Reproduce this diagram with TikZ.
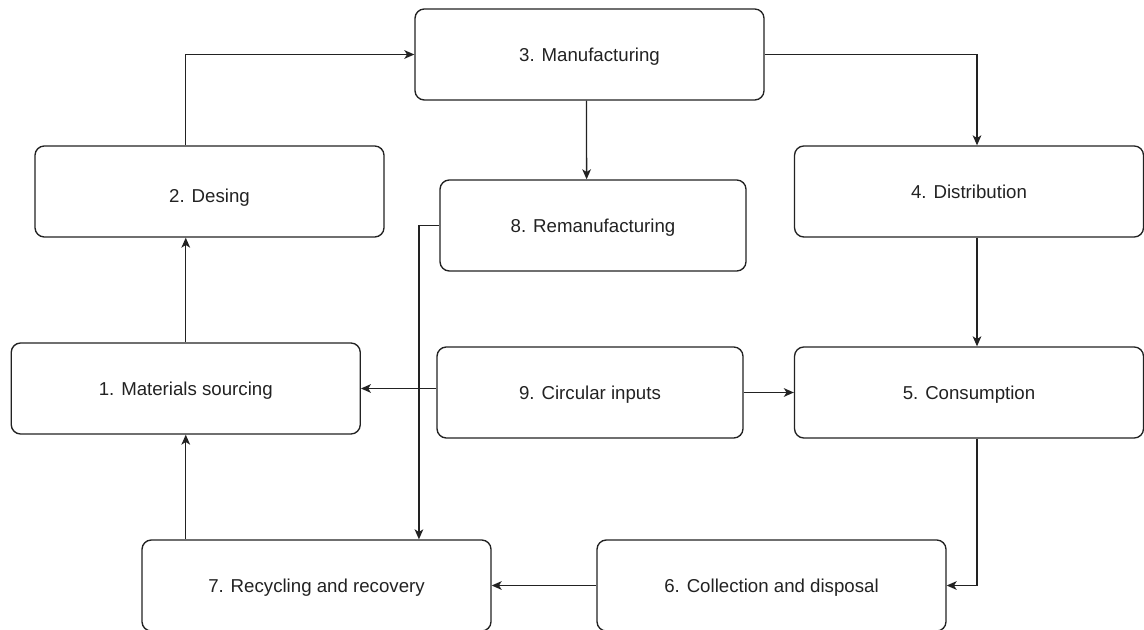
\documentclass[tikz,border=0pt]{standalone}
\usepackage{fontspec}
\setmainfont{Liberation Sans}
\usetikzlibrary{arrows.meta,calc}
\definecolor{ln}{HTML}{222222}
\begin{document}
\begin{tikzpicture}[x=0.75pt,y=-0.75pt,
  box/.style={draw=ln,line width=1pt,rounded corners=7pt,minimum height=68.25pt,
    text=ln,font=\fontsize{14}{16}\selectfont,inner sep=0pt,text height=10pt,text depth=0pt},
  wide/.style={box,minimum width=261.75pt},
  narrow/.style={box,minimum width=229.5pt},
  arr/.style={draw=ln,line width=1pt,-{Stealth[length=7.5pt,width=6.5pt,inset=2pt]}}]
\useasboundingbox (0,0) rectangle (1144,630);
\node[wide] (n3) at (589.5,54.5) {3. Manufacturing};
\node[wide,text height=16pt] (n2) at (209.5,191.5) {2. Desing};
\node[narrow] (n8) at (593,225.5) {8. Remanufacturing};
\node[wide] (n4) at (969,191.5) {4. Distribution};
\node[wide] (n1) at (185.75,388.5) {1. Materials sourcing};
\node[narrow] (n9) at (590,392.5) {9. Circular inputs};
\node[wide] (n5) at (969,392.5) {5. Consumption};
\node[wide] (n7) at (316.5,585.5) {7. Recycling and recovery};
\node[wide] (n6) at (771.5,585.5) {6. Collection and disposal};
% connectors
\draw[arr] (n2.north -| n1.north) |- (n3.west);
\draw[arr] (n3.east) -| ($(n4.north)+(8,0)$);
\draw[arr] ($(n3.south)+(-3,0)$) -- ($(n8.north)+(-6.4,0)$);
\draw[arr] ($(n4.south)+(8,0)$) -- ($(n5.north)+(8,0)$);
\draw[arr] (n1.north) -- (n1.north |- n2.south);
\draw[arr] (n9.west |- n1.east) -- (n1.east);
\draw[arr] (n9.east) -- (n5.west);
\draw[arr] (n8.west) -- ++(-20.4,0) coordinate (k) -- (k |- n7.north);
\draw[arr] ($(n5.south)+(8,0)$) |- (n6.east);
\draw[arr] (n6.west) -- (n7.east);
\draw[arr] (n7.north -| n1.south) -- (n1.south);
\end{tikzpicture}
\end{document}
